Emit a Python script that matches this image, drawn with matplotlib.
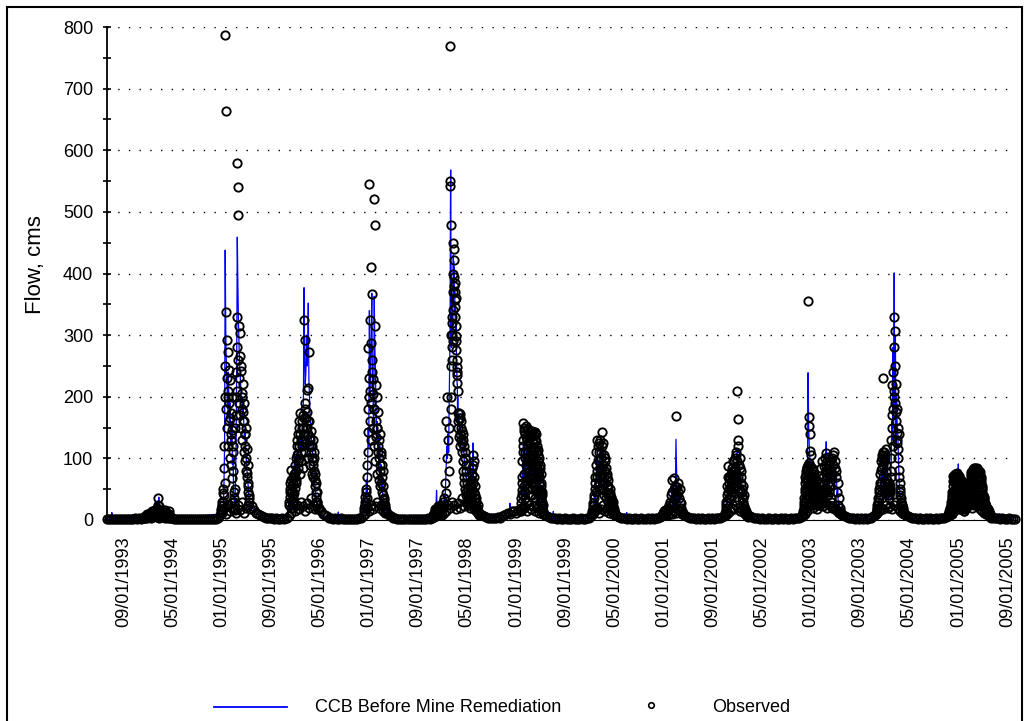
import numpy as np
import pandas as pd
import matplotlib
matplotlib.use('Agg')
import matplotlib.pyplot as plt
from matplotlib.lines import Line2D
from matplotlib.patches import Rectangle

plt.rcParams['font.family'] = ['Liberation Sans', 'DejaVu Sans']

# observed base flow, one reading every 10 days from the start of the record
base_start = '1993-06-11'
obs_base = [2, 1, 2, 1, 1, 2, 1, 2, 2, 1, 2, 1, 2, 2, 3, 2, 3, 2,
            3, 4, 3, 5, 4, 5, 6, 5, 4, 6, 5, 4, 3, 4, 3,
            2, 2, 2, 1, 2, 1, 1, 2, 1, 1, 2, 1, 1, 1, 2, 1, 1, 2, 1, 1, 2, 2,
            3, 8, 12, 20, 10, 25, 14, 30, 18, 12, 24, 16, 30, 12, 20, 25, 18,
            22, 16, 12, 10, 8, 6, 5, 4, 4,
            3, 3, 2, 3, 2, 2, 3, 2, 4, 6,
            12, 20, 15, 25, 18, 30, 22, 15, 28, 20, 35, 25, 18, 30,
            20, 14, 10, 8, 6, 4,
            3, 2, 3, 2, 2, 3, 2, 2, 1, 2, 2, 1, 2, 2, 3, 4, 6,
            10, 20, 15, 25, 18, 22, 30, 20, 25, 15, 20,
            12, 8, 6, 4, 3,
            2, 2, 2, 1, 2, 2, 2, 1, 2, 2, 2, 2, 1, 2, 2, 3, 2, 3, 5,
            6, 8, 10, 8, 12, 15, 25, 20, 30, 25, 18, 28, 20, 35, 22, 30, 25, 20, 28, 18,
            15, 12, 10, 8, 6, 5,
            4, 3, 3, 4, 3, 5, 4, 6, 8, 10,
            12, 10, 15, 14, 12, 16, 14, 18,
            20, 15, 25, 18, 22, 15, 20, 12, 15, 10,
            8, 6, 5, 4, 3,
            3, 2, 3, 2, 2, 3, 2, 2, 2, 3, 2, 2, 2, 3, 2, 2, 3, 4, 6,
            10, 15, 20, 12, 18, 25, 15, 20, 12, 15, 10, 8,
            6, 5, 4, 3, 3,
            2, 3, 2, 2, 3, 2, 2, 3, 2, 2, 3, 2, 3, 2, 3, 4, 5, 6,
            8, 10, 8, 12, 10, 15, 12, 18, 15, 10, 8, 6,
            5, 4, 3, 3, 2, 3, 2, 3, 2, 2, 3, 2, 3, 2, 3, 4, 3, 5, 6, 8,
            12, 15, 20, 18, 25, 20, 15, 18, 12, 10, 8,
            6, 5, 4, 3, 3, 2, 3, 2, 2, 3, 2, 2, 3, 2, 2, 3, 2, 3, 2, 2, 3, 2, 3, 3, 4, 5, 6,
            10, 15, 25, 30, 20, 28, 18, 25, 30, 22, 28, 20, 25, 30, 22, 18, 15, 12, 10, 8, 6,
            5, 4, 3, 3, 2, 3, 2, 3, 2, 3, 2, 3, 4, 6,
            8, 12, 15, 20, 18, 25, 20, 22, 18, 25, 30, 20, 15, 12, 10,
            8, 6, 5, 4, 3, 3, 2, 3, 2, 2, 3, 2, 3, 2, 2, 3, 2, 3, 3, 4, 5, 6,
            8, 10, 15, 20, 25, 18, 22, 15, 20, 25, 30, 20, 25, 28, 22, 18, 15, 12, 10, 8, 6, 5,
            4, 3, 3, 2, 3, 2, 2, 3, 2, 2, 1]

# wet seasons: start date, days between values, observed and simulated flow
wy94_start = '1993-12-07'
wy94_obs = [3, 4, 5, 6, 5, 7, 8, 9, 7, 8, 10, 12, 9, 11, 14, 12, 10, 13, 15, 12,
            16, 18, 14, 20, 24, 36, 22, 16, 14, 12, 10, 12, 14, 11, 9, 10, 13, 16, 12, 9,
            8, 10, 14, 9, 6, 5, 4, 3]
wy94_sim = [2, 3, 3, 4, 4, 5, 6, 6, 5, 6, 7, 8, 7, 8, 10, 9, 8, 9, 10, 9,
            11, 12, 10, 14, 18, 26, 37, 15, 12, 10, 9, 10, 11, 9, 8, 8, 10, 12, 10, 8,
            7, 8, 16, 8, 5, 4, 3, 2]

wy95_start = '1994-12-28'
wy95_obs = [14, 22, 16, 44, 30, 84, 60, 787, 663, 338, 292, 200, 273, 243, 160,
            227, 173, 130, 146, 68, 110, 29, 45, 16, 150, 200, 330, 580, 540, 495,
            314, 304, 266, 241, 206, 180, 220, 160, 190, 140, 120, 150, 100, 76, 90,
            60, 40, 30]
wy95_sim = [10, 15, 12, 25, 20, 60, 120, 438, 300, 250, 220, 180, 240, 200, 150,
            190, 140, 120, 160, 90, 100, 40, 30, 25, 60, 120, 250, 459, 380, 320,
            280, 250, 230, 210, 190, 200, 170, 180, 150, 130, 140, 110, 95, 80, 70,
            55, 40, 30]

wy96_start = '1995-11-30'
wy96_obs = [30, 60, 45, 20, 81, 55, 35, 70, 28, 44, 90, 60, 80, 105, 130,
            95, 150, 120, 173, 140, 110, 160, 130, 150, 170, 324, 292, 180, 150, 165,
            211, 215, 140, 272, 160, 130, 145, 120, 100, 130, 90, 110, 80, 65, 60,
            29, 45, 30, 20]
wy96_sim = [15, 30, 25, 18, 40, 30, 25, 50, 20, 111, 60, 45, 70, 90, 110,
            85, 130, 110, 150, 125, 100, 140, 120, 160, 200, 377, 260, 220, 240, 300,
            250, 280, 352, 230, 200, 170, 150, 130, 120, 110, 95, 90, 70, 55, 45,
            35, 30, 22, 15]

wy97_start = '1996-12-06'
wy97_obs = [20, 38, 25, 30, 50, 90, 143, 279, 200, 545, 325, 288, 410, 367, 260,
            229, 180, 521, 479, 315, 219, 150, 200, 120, 175, 100, 140, 80, 110, 60,
            90, 40, 55, 32, 25, 18, 14]
wy97_sim = [10, 20, 15, 25, 65, 40, 80, 150, 120, 340, 200, 250, 300, 368, 220,
            200, 150, 363, 280, 240, 180, 130, 160, 110, 140, 90, 120, 70, 90, 55,
            70, 35, 40, 25, 18, 12, 8]

wy98a_start = '1997-11-13'
wy98a_obs = [8, 12, 10, 15, 18, 12, 20, 14, 16, 22, 18, 14, 20, 25, 18,
             22, 30, 20, 35, 24, 60, 44, 160, 100, 200, 130, 80, 150]
wy98a_sim = [5, 8, 10, 12, 15, 20, 48, 15, 12, 14, 18, 15, 16, 20, 18,
             25, 22, 30, 25, 40, 30, 60, 90, 120, 100, 140, 110, 200]

wy98b_start = '1998-02-06'
wy98b_obs = [769, 550, 542, 479, 300, 180, 250, 200, 330, 280, 260, 300, 320, 290, 370,
             340, 449, 400, 440, 380, 422, 395, 357, 384, 345, 370, 330, 315, 298, 360,
             276, 290, 249, 260, 235, 222, 240, 174, 210, 160]
wy98b_sim = [300, 450, 520, 568, 480, 350, 300, 280, 320, 300, 290, 310, 330, 300, 360,
             350, 430, 400, 420, 390, 410, 380, 360, 370, 340, 350, 320, 310, 300, 320,
             280, 280, 250, 250, 230, 220, 220, 180, 200, 170]

wy98c_start = '1998-03-19'
wy98c_obs = [150, 174, 140, 165, 130, 150, 125, 140, 80, 120, 60, 100, 45, 80, 30,
             60, 40, 55, 25, 45, 35, 60, 50, 75, 90, 105, 70, 55, 40, 30,
             35, 20, 25, 15, 12, 10]
wy98c_sim = [160, 170, 150, 155, 140, 145, 130, 130, 110, 115, 90, 95, 70, 75, 55,
             60, 45, 50, 35, 40, 35, 45, 50, 60, 125, 70, 50, 40, 32, 28,
             22, 18, 15, 12, 10, 8]

wy99_start = '1999-01-23'
wy99_obs = [20, 35, 49, 120, 157, 22, 150, 140, 90, 152, 130, 110, 148, 125, 70,
            145, 100, 135, 60, 140, 115, 80, 138, 143, 95, 128, 50, 120, 114, 75,
            100, 40, 85, 60, 35, 45, 25, 15]
wy99_sim = [10, 20, 30, 80, 125, 40, 110, 100, 70, 120, 95, 85, 115, 90, 60,
            110, 80, 100, 55, 105, 90, 65, 100, 110, 75, 95, 45, 90, 85, 60,
            80, 35, 70, 50, 30, 35, 20, 12]

wy00_start = '2000-01-10'
wy00_obs = [10, 15, 22, 18, 35, 50, 60, 90, 130, 70, 98, 110, 60, 130, 85,
            100, 75, 142, 90, 125, 70, 100, 60, 85, 45, 70, 40, 55, 30, 40,
            44, 25, 38, 20, 32, 30, 18, 15, 12, 10]
wy00_sim = [5, 8, 12, 15, 44, 30, 45, 70, 100, 60, 85, 95, 55, 110, 75,
            90, 65, 115, 80, 100, 60, 85, 55, 70, 40, 60, 35, 45, 28, 35,
            30, 22, 25, 18, 20, 15, 12, 10, 8, 6]

wy01_start = '2000-12-23'
wy01_obs = [8, 10, 12, 15, 10, 16, 12, 14, 18, 15, 20, 25, 18, 30, 22,
            40, 65, 45, 30, 68, 50, 35, 55, 169, 54, 40, 60, 45, 35, 50,
            30, 27, 20, 15, 12, 10, 8]
wy01_sim = [3, 4, 5, 6, 5, 7, 6, 8, 10, 8, 12, 15, 12, 20, 15,
            30, 50, 35, 25, 55, 40, 30, 45, 131, 81, 35, 50, 35, 30, 40,
            25, 20, 15, 12, 10, 8, 6]

wy02_start = '2001-10-31'
wy02_obs = [10, 15, 25, 40, 30, 87, 50, 68, 66, 35, 55, 80, 45, 70, 95,
            60, 85, 100, 75, 111, 210, 164, 130, 90, 32, 100, 60, 80, 45, 55,
            30, 40, 22, 18, 15, 12, 10, 8, 6]
wy02_sim = [5, 8, 15, 30, 25, 60, 40, 55, 50, 30, 45, 65, 40, 60, 80,
            55, 75, 90, 70, 100, 114, 110, 95, 75, 35, 80, 50, 65, 40, 45,
            28, 32, 20, 15, 12, 10, 8, 6, 5]

wy03_start = '2002-11-17'
wy03_obs = [8, 12, 15, 19, 30, 50, 65, 80, 40, 86, 356, 167, 153, 140, 112,
            105, 45, 85, 60, 75, 30, 70, 50, 65, 44, 35, 40, 30, 25, 35,
            40, 30, 45, 35, 40, 30, 45, 60, 78, 90, 109, 70, 50, 40, 55,
            45, 70, 95, 80, 100, 75, 90, 105, 111, 85, 95, 70, 80, 45, 60,
            24, 35, 20, 15, 12, 10, 8]
wy03_sim = [4, 6, 8, 12, 20, 35, 50, 60, 55, 70, 239, 150, 120, 100, 90,
            85, 70, 65, 75, 55, 65, 50, 60, 45, 40, 35, 38, 30, 28, 32,
            35, 30, 40, 32, 35, 30, 40, 50, 65, 80, 127, 60, 45, 38, 50,
            42, 60, 80, 70, 85, 65, 80, 90, 95, 75, 85, 60, 70, 40, 50,
            22, 30, 18, 14, 10, 8, 6]

wy04_start = '2003-11-19'
wy04_obs = [10, 15, 20, 35, 25, 50, 40, 60, 95, 81, 105, 90, 230, 111, 100,
            49, 115, 78, 60, 45, 55, 40, 60, 50, 70, 100, 219, 150, 180, 200,
            330, 306, 190, 160, 141, 130, 150, 116, 81, 60, 45, 35, 30, 25, 20,
            15, 12, 10]
wy04_sim = [5, 8, 12, 20, 18, 30, 25, 45, 70, 60, 80, 70, 100, 90, 75,
            40, 95, 60, 45, 35, 45, 35, 50, 40, 60, 90, 160, 130, 280, 150,
            401, 180, 300, 120, 200, 150, 140, 100, 70, 50, 40, 30, 25, 20, 15,
            12, 10, 8]

wy05_start = '2004-11-10'
wy05_obs = [8, 10, 14, 12, 20, 25, 34, 45, 72, 30, 70, 50, 74, 35, 65,
            76, 40, 60, 72, 25, 66, 50, 62, 30, 55, 44, 20, 30, 40, 28,
            35, 42, 30, 49, 40, 55, 30, 60, 78, 45, 70, 82, 35, 75, 85,
            60, 80, 50, 84, 75, 40, 80, 65, 30, 70, 45, 55, 35, 30, 38,
            25, 28, 20, 22, 20, 15, 18, 12, 14, 10, 8, 6, 5]
wy05_sim = [4, 5, 6, 8, 10, 15, 20, 30, 40, 35, 50, 45, 55, 40, 60,
            50, 65, 91, 55, 40, 50, 45, 48, 35, 40, 30, 35, 25, 30, 22,
            28, 32, 25, 38, 35, 45, 75, 50, 55, 60, 62, 58, 65, 60, 68,
            62, 66, 60, 62, 55, 58, 50, 52, 40, 45, 35, 38, 28, 25, 30,
            20, 22, 16, 18, 15, 12, 14, 10, 10, 8, 6, 5, 4]

# observed readings on the in-between days of the busiest seasons (every 3 days)
wy95b_start = '1994-12-29'
wy95b_obs = [18, 30, 25, 50, 40, 120, 200, 250, 180, 230, 150, 210, 120, 190, 100,
             165, 90, 140, 200, 80, 120, 35, 20, 50, 170, 240, 280, 210, 260, 190,
             230, 170, 250, 150, 200, 130, 175, 110, 160, 95, 140, 80, 115, 70, 55,
             45, 35]
wy96b_start = '1995-12-01'
wy96b_obs = [25, 50, 38, 65, 45, 30, 60, 40, 75, 52, 70, 100, 65, 120, 85,
             140, 100, 160, 75, 130, 95, 150, 120, 85, 165, 140, 110, 190, 125, 175,
             150, 100, 160, 120, 90, 135, 110, 75, 120, 95, 70, 100, 55, 75, 45,
             38, 25, 18]
wy97b_start = '1996-12-07'
wy97b_obs = [15, 30, 22, 45, 35, 70, 110, 180, 230, 160, 210, 130, 190, 240, 150,
             205, 120, 180, 95, 160, 135, 75, 150, 110, 65, 130, 90, 55, 105, 70,
             45, 80, 35, 28, 20, 12]
wy98d_start = '1998-03-20'
wy98d_obs = [165, 135, 172, 120, 160, 110, 145, 95, 130, 70, 110, 50, 90, 40, 70,
             35, 50, 30, 40, 25, 45, 40, 65, 85, 60, 95, 45, 35, 25, 30,
             18, 20, 12, 10, 8]
wy99b_start = '1999-01-24'
wy99b_obs = [28, 60, 95, 40, 130, 75, 110, 45, 135, 85, 60, 120, 30, 100, 140,
             65, 115, 90, 40, 125, 70, 105, 55, 130, 85, 25, 110, 65, 95, 50,
             70, 90, 30, 55, 40, 20, 10]
wy99c_start = '1999-01-25'
wy99c_obs = [15, 42, 70, 110, 55, 145, 35, 100, 65, 148, 95, 50, 80, 135, 40,
             105, 75, 145, 50, 95, 130, 60, 35, 115, 140, 70, 90, 45, 105, 80,
             60, 30, 75, 45, 25, 30, 12]
wy00b_start = '2000-01-11'
wy00b_obs = [12, 18, 28, 40, 25, 70, 45, 110, 80, 120, 55, 95, 125, 70, 110,
             50, 120, 85, 60, 105, 40, 80, 95, 35, 75, 55, 30, 65, 42, 25,
             50, 32, 20, 28, 15, 22, 12, 10, 8]
wy02b_start = '2001-11-01'
wy02b_obs = [12, 20, 30, 55, 45, 70, 35, 60, 50, 75, 40, 65, 85, 50, 75,
             95, 55, 80, 105, 65, 95, 120, 70, 50, 85, 45, 70, 35, 50, 25,
             35, 20, 15, 12, 10, 8, 6, 5]
wy03b_start = '2002-11-28'
wy03b_obs = [25, 45, 70, 35, 82, 55, 90, 40, 75, 60, 88, 30, 72, 50, 80,
             38, 62, 45, 55, 30, 40, 25]
wy03c_start = '2002-11-29'
wy03c_obs = [35, 60, 28, 75, 50, 84, 65, 45, 92, 35, 70, 55, 82, 42, 68,
             25, 58, 35, 48, 38, 28, 32]
wy03d_start = '2003-02-16'
wy03d_obs = [60, 85, 40, 95, 70, 50, 88, 65, 100, 45, 80, 96, 60, 102, 75,
             90, 55, 70, 35, 20]
wy04b_start = '2003-11-20'
wy04b_obs = [12, 18, 25, 30, 45, 35, 55, 75, 60, 100, 85, 110, 70, 95, 60,
             105, 90, 50, 65, 40, 50, 35, 55, 45, 80, 130, 170, 240, 120, 280,
             210, 250, 175, 220, 125, 180, 100, 140, 70, 50, 40, 30, 25, 20, 16,
             12, 9]
wy05b_start = '2004-11-11'
wy05b_obs = [6, 9, 12, 15, 18, 22, 28, 38, 55, 25, 62, 40, 68, 20, 58,
             70, 32, 52, 66, 18, 60, 42, 56, 24, 48, 35, 15, 25, 33, 22,
             30, 38, 25, 45, 35, 48, 25, 66, 72, 38, 62, 76, 28, 68, 80,
             52, 74, 42, 78, 68, 32, 72, 58, 25, 62, 38, 48, 30, 25, 32,
             20, 24, 16, 18, 16, 12, 14, 10, 11, 8, 6, 5]
wy05c_start = '2004-11-12'
wy05c_obs = [7, 11, 13, 17, 20, 30, 40, 64, 35, 68, 45, 72, 28, 60, 74,
             50, 36, 70, 45, 62, 30, 58, 40, 64, 20, 52, 28, 18, 36, 26,
             40, 28, 44, 32, 50, 42, 58, 34, 75, 55, 80, 40, 70, 84, 46,
             78, 58, 82, 36, 76, 66, 50, 78, 42, 66, 30, 52, 40, 28, 35,
             22, 26, 18, 20, 14, 16, 12, 12, 9, 7, 5, 4]

# simulated flow in the dry months: recession tails and short blips
dry_dates = ['1993-06-11', '1993-07-04', '1993-07-05', '1993-07-06',
             '1995-06-05', '1995-06-25', '1995-07-20', '1995-08-20', '1995-11-20',
             '1996-05-10', '1996-06-10',
             '1996-07-31', '1996-08-01', '1996-08-02', '1996-11-28',
             '1997-04-05', '1997-04-12', '1997-04-13', '1997-04-14', '1997-11-01',
             '1998-07-20', '1998-08-20',
             '1998-11-29', '1998-11-30', '1998-12-01',
             '1999-06-01', '1999-06-25',
             '1999-07-02', '1999-07-03', '1999-07-04', '1999-12-20',
             '2000-05-25',
             '2000-06-30', '2000-07-01', '2000-07-02',
             '2001-05-01', '2001-10-15', '2002-03-15',
             '2002-05-31', '2002-06-01', '2002-06-02', '2002-06-15', '2002-06-16', '2002-06-17',
             '2002-11-01', '2003-06-25', '2003-11-05', '2004-05-01',
             '2004-06-23', '2004-06-24', '2004-06-25', '2004-10-25',
             '2005-07-05',
             '2005-07-24', '2005-07-25', '2005-07-26',
             '2005-09-30']
dry_flow = [1, 2, 12, 2,
            18, 10, 5, 2, 3,
            8, 3,
            2, 13, 2, 3,
            4, 3, 13, 3, 2,
            4, 2,
            8, 27, 8,
            5, 2,
            2, 14, 2, 2,
            2,
            2, 12, 2,
            2, 2, 2,
            2, 10, 2, 2, 9, 2,
            2, 2, 2, 3,
            2, 10, 2, 2,
            2,
            2, 10, 2,
            1]

seasons = [(wy94_start, 3, wy94_obs, wy94_sim),
           (wy95_start, 3, wy95_obs, wy95_sim),
           (wy96_start, 3, wy96_obs, wy96_sim),
           (wy97_start, 3, wy97_obs, wy97_sim),
           (wy98a_start, 3, wy98a_obs, wy98a_sim),
           (wy98b_start, 1, wy98b_obs, wy98b_sim),
           (wy98c_start, 3, wy98c_obs, wy98c_sim),
           (wy99_start, 3, wy99_obs, wy99_sim),
           (wy00_start, 3, wy00_obs, wy00_sim),
           (wy01_start, 3, wy01_obs, wy01_sim),
           (wy02_start, 3, wy02_obs, wy02_sim),
           (wy03_start, 3, wy03_obs, wy03_sim),
           (wy04_start, 3, wy04_obs, wy04_sim),
           (wy05_start, 3, wy05_obs, wy05_sim)]

extra_obs = [(wy95b_start, wy95b_obs), (wy96b_start, wy96b_obs),
             (wy97b_start, wy97b_obs), (wy98d_start, wy98d_obs),
             (wy99b_start, wy99b_obs), (wy99c_start, wy99c_obs),
             (wy00b_start, wy00b_obs), (wy02b_start, wy02b_obs),
             (wy03b_start, wy03b_obs), (wy03c_start, wy03c_obs),
             (wy03d_start, wy03d_obs), (wy04b_start, wy04b_obs),
             (wy05b_start, wy05b_obs), (wy05c_start, wy05c_obs)]

obs_dates = [pd.date_range(base_start, periods=len(obs_base), freq='10D')]
obs_vals = [np.array(obs_base)]
sim_dates = [pd.to_datetime(dry_dates)]
sim_vals = [np.array(dry_flow)]
for start, step, o, s in seasons:
    d = pd.date_range(start, periods=len(o), freq=f'{step}D')
    obs_dates.append(d)
    obs_vals.append(np.array(o))
    sim_dates.append(d)
    sim_vals.append(np.array(s))
for start, o in extra_obs:
    obs_dates.append(pd.date_range(start, periods=len(o), freq='3D'))
    obs_vals.append(np.array(o))

sim = pd.Series(np.concatenate(sim_vals),
                index=pd.DatetimeIndex(np.concatenate(sim_dates))).sort_index()
obs_x = pd.DatetimeIndex(np.concatenate(obs_dates))
obs_y = np.concatenate(obs_vals)

W, H = 1029, 721
fig = plt.figure(figsize=(W / 100, H / 100), dpi=100)
ax = fig.add_axes([107 / W, 1 - 520 / H, 909 / W, 493 / H])

ax.plot(sim.index, sim.values, color='#0000ff', lw=0.9, zorder=2)
ax.plot(obs_x, obs_y, ls='none', marker='o', ms=6, mfc='none', mec='black',
        mew=1.35, clip_on=False, zorder=3)

ax.set_xlim(pd.Timestamp('1993-06-11'), pd.Timestamp('2005-10-13'))
ax.set_ylim(0, 800)
ax.set_yticks(range(0, 801, 100))
ax.set_yticks(range(50, 800, 100), minor=True)
ax.yaxis.grid(True, which='major', ls=(0, (1, 6.7)), color='black', lw=1.0)
ax.set_axisbelow(True)

ticks = pd.date_range('1993-09-01', periods=19, freq='8MS')
ax.set_xticks(ticks)
ax.set_xticklabels([t.strftime('%m/%d/%Y') for t in ticks], rotation=90,
                   ha='center', va='top')
ax.tick_params(axis='x', length=0, labelsize=13, pad=12)
ax.tick_params(axis='y', which='both', direction='inout', length=6, width=1.2,
               labelsize=13, pad=7)

for side in ['top', 'right']:
    ax.spines[side].set_visible(False)
ax.spines['left'].set_linewidth(1.3)
ax.spines['bottom'].set_linewidth(0.8)

fig.text(36 / W, 1 - 265 / H, 'Flow, cms', rotation=90, fontsize=16,
         ha='center', va='center')

# legend drawn by hand along the bottom
fig.add_artist(Line2D([214 / W, 287 / W], [1 - 707 / H] * 2, color='#0000ff', lw=1.3))
fig.text(315 / W, 1 - 708 / H, 'CCB Before Mine Remediation', fontsize=13, va='center')
fig.add_artist(Line2D([651 / W], [1 - 705 / H], marker='o', ms=4, mfc='none',
                      mec='black', mew=1.2))
fig.text(712 / W, 1 - 708 / H, 'Observed', fontsize=13, va='center')

fig.add_artist(Rectangle((7 / W, -0.01), 1015 / W, 714 / H + 0.01,
                         transform=fig.transFigure, fill=False, ec='black', lw=1.5))

fig.savefig('out.png', dpi=100)
